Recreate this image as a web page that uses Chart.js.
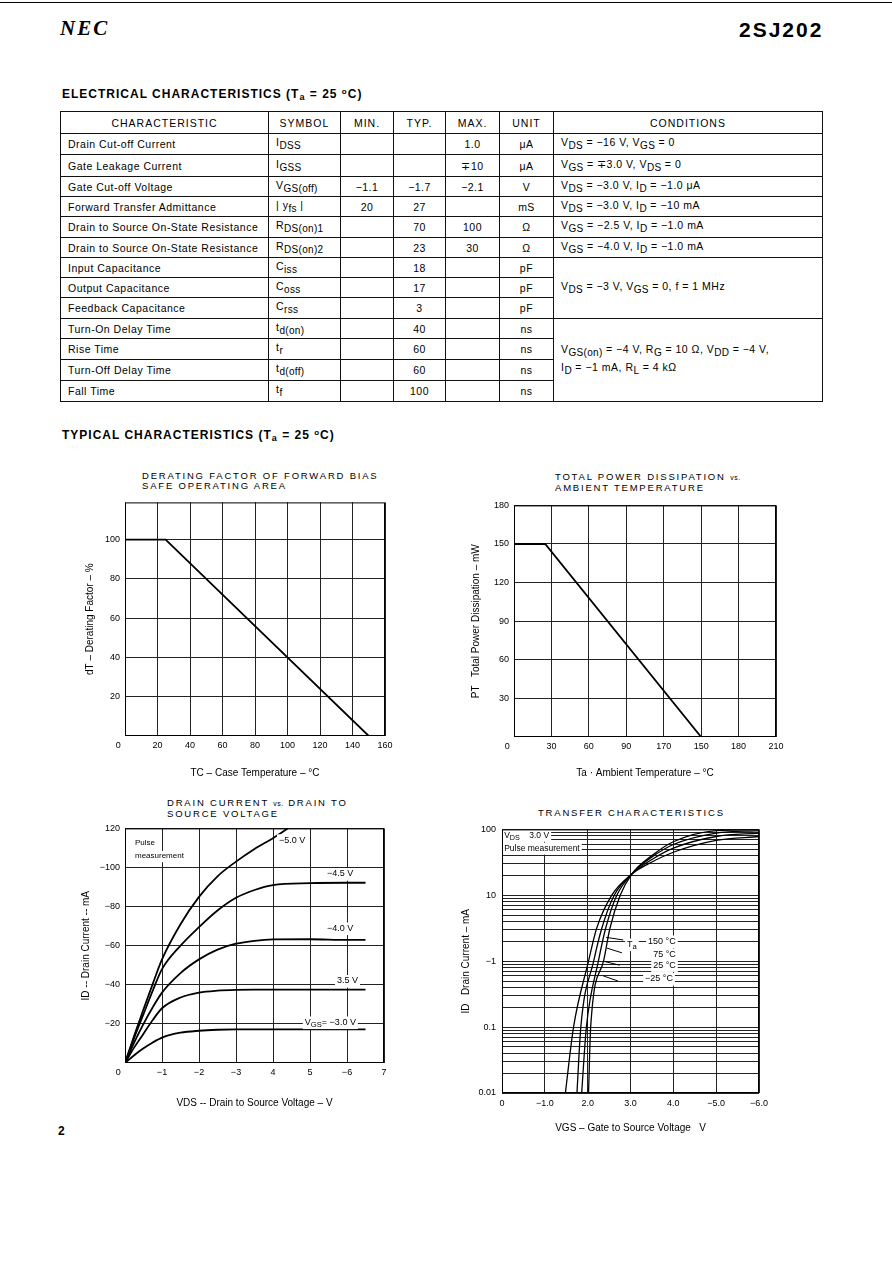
<!DOCTYPE html>
<html>
<head>
<meta charset="utf-8">
<script src="https://cdn.jsdelivr.net/npm/chart.js@4.4.1/dist/chart.umd.min.js"></script>
<style>
  body { margin: 0; background: #fff; }
  #page { position: relative; width: 892px; height: 1263px; overflow: hidden;
          font-family: "Liberation Sans", Arial, sans-serif; color: #000; }
  .abs { position: absolute; white-space: nowrap; line-height: 1; }
  .rule { position: absolute; left: 0; top: 2px; width: 892px; height: 1px; background: #000; }
  .nec { font-family: "Liberation Serif", serif; font-weight: bold; font-style: italic;
         font-size: 21px; letter-spacing: 2px; }
  .part { font-weight: bold; font-size: 21px; letter-spacing: 2px; }
  .sec { font-weight: bold; font-size: 12px; letter-spacing: 1px; }
  .sec sub { font-size: 9px; vertical-align: -2px; }
  .sec sup { font-size: 8px; vertical-align: 4px; }
  .ctitle { position: absolute; white-space: nowrap; font-size: 9.5px; line-height: 10px;
            letter-spacing: 1.8px; }
  .ctitle small { font-size: 7px; letter-spacing: 0.5px; }
  canvas { position: absolute; }

  #ec { position: absolute; left: 60px; top: 111px; border-collapse: collapse;
        table-layout: fixed; font-size: 10.5px; letter-spacing: 0.5px; }
  #ec td { border: 1px solid #111; padding: 0; text-align: center; vertical-align: middle;
           line-height: 12px; white-space: nowrap; }
  #ec td.l { text-align: left; padding-left: 7px; }
  #ec tr.hd td { letter-spacing: 1px; }
  #ec sub { font-size: 10px; vertical-align: -3px; letter-spacing: 0.3px; }
</style>
</head>
<body>
<div id="page">
  <div class="rule"></div>
  <div class="abs nec" style="left:60px; top:18px;">NEC</div>
  <div class="abs part" style="left:739px; top:19px;">2SJ202</div>

  <div class="abs sec" style="left:62px; top:88px;">ELECTRICAL CHARACTERISTICS (T<sub>a</sub> = 25 <sup>o</sup>C)</div>

  <table id="ec">
    <colgroup>
      <col style="width:208px"><col style="width:72px"><col style="width:53px"><col style="width:52px">
      <col style="width:54px"><col style="width:54px"><col style="width:269px">
    </colgroup>
    <tr class="hd" style="height:22px"><td>CHARACTERISTIC</td><td>SYMBOL</td><td>MIN.</td><td>TYP.</td><td>MAX.</td><td>UNIT</td><td>CONDITIONS</td></tr>
    <tr style="height:21px"><td class="l">Drain Cut-off Current</td><td class="l">I<sub>DSS</sub></td><td></td><td></td><td>1.0</td><td>μA</td><td class="l">V<sub>DS</sub> = −16 V, V<sub>GS</sub> = 0</td></tr>
    <tr style="height:22px"><td class="l">Gate Leakage Current</td><td class="l">I<sub>GSS</sub></td><td></td><td></td><td>∓10</td><td>μA</td><td class="l">V<sub>GS</sub> = ∓3.0 V, V<sub>DS</sub> = 0</td></tr>
    <tr style="height:20px"><td class="l">Gate Cut-off Voltage</td><td class="l">V<sub>GS(off)</sub></td><td>−1.1</td><td>−1.7</td><td>−2.1</td><td>V</td><td class="l">V<sub>DS</sub> = −3.0 V, I<sub>D</sub> = −1.0 μA</td></tr>
    <tr style="height:20px"><td class="l">Forward Transfer Admittance</td><td class="l">| y<sub>fs</sub> |</td><td>20</td><td>27</td><td></td><td>mS</td><td class="l">V<sub>DS</sub> = −3.0 V, I<sub>D</sub> = −10 mA</td></tr>
    <tr style="height:21px"><td class="l">Drain to Source On-State Resistance</td><td class="l">R<sub>DS(on)1</sub></td><td></td><td>70</td><td>100</td><td>Ω</td><td class="l">V<sub>GS</sub> = −2.5 V, I<sub>D</sub> = −1.0 mA</td></tr>
    <tr style="height:20px"><td class="l">Drain to Source On-State Resistance</td><td class="l">R<sub>DS(on)2</sub></td><td></td><td>23</td><td>30</td><td>Ω</td><td class="l">V<sub>GS</sub> = −4.0 V, I<sub>D</sub> = −1.0 mA</td></tr>
    <tr style="height:20px"><td class="l">Input Capacitance</td><td class="l">C<sub>iss</sub></td><td></td><td>18</td><td></td><td>pF</td><td class="l" rowspan="3">V<sub>DS</sub> = −3 V, V<sub>GS</sub> = 0, f = 1 MHz</td></tr>
    <tr style="height:20px"><td class="l">Output Capacitance</td><td class="l">C<sub>oss</sub></td><td></td><td>17</td><td></td><td>pF</td></tr>
    <tr style="height:21px"><td class="l">Feedback Capacitance</td><td class="l">C<sub>rss</sub></td><td></td><td>3</td><td></td><td>pF</td></tr>
    <tr style="height:20px"><td class="l">Turn-On Delay Time</td><td class="l">t<sub>d(on)</sub></td><td></td><td>40</td><td></td><td>ns</td><td class="l" rowspan="4" style="line-height:14px">V<sub>GS(on)</sub> = −4 V, R<sub>G</sub> = 10 Ω, V<sub>DD</sub> = −4 V,<br>I<sub>D</sub> = −1 mA, R<sub>L</sub> = 4 kΩ</td></tr>
    <tr style="height:21px"><td class="l">Rise Time</td><td class="l">t<sub>r</sub></td><td></td><td>60</td><td></td><td>ns</td></tr>
    <tr style="height:21px"><td class="l">Turn-Off Delay Time</td><td class="l">t<sub>d(off)</sub></td><td></td><td>60</td><td></td><td>ns</td></tr>
    <tr style="height:21px"><td class="l">Fall Time</td><td class="l">t<sub>f</sub></td><td></td><td>100</td><td></td><td>ns</td></tr>
  </table>

  <div class="abs sec" style="left:62px; top:429px;">TYPICAL CHARACTERISTICS (T<sub>a</sub> = 25 <sup>o</sup>C)</div>

  <div class="ctitle" style="left:142px; top:471px;">DERATING FACTOR OF FORWARD BIAS<br>SAFE OPERATING AREA</div>
  <div class="ctitle" style="left:555px; top:472px;">TOTAL POWER DISSIPATION <small>vs.</small><br>AMBIENT TEMPERATURE</div>
  <div class="ctitle" style="left:167px; top:798px;">DRAIN CURRENT <small>vs.</small> DRAIN TO<br>SOURCE VOLTAGE</div>
  <div class="ctitle" style="left:538px; top:808px;">TRANSFER CHARACTERISTICS</div>

  <canvas id="derChart" width="345" height="296" style="left:60px; top:492px;"></canvas>
  <canvas id="pwrChart" width="335" height="293" style="left:460px; top:495px;"></canvas>
  <canvas id="idChart" width="330" height="300" style="left:70px; top:818px;"></canvas>
  <canvas id="trChart" width="320" height="318" style="left:455px; top:818px;"></canvas>

  <div class="abs sec" style="left:58px; top:1125px;">2</div>
</div>

<script>
// ---- data ----

// derating factor vs case temperature
const derTemp = [0, 25, 150];
const derFactor = [100, 100, 0];
const derXTicks = [0, 20, 40, 60, 80, 100, 120, 140, 160];
const derXLabels = ["0", "20", "40", "60", "80", "100", "120", "140", "160"];
const derYTicks = [20, 40, 60, 80, 100];
const derYLabels = ["20", "40", "60", "80", "100"];

// total power dissipation vs ambient temperature
const pwrTemp = [0, 25, 150];
const pwrMw = [150, 150, 0];
const pwrXTicks = [0, 30, 60, 90, 120, 150, 180, 210];
const pwrXLabels = ["0", "30", "60", "90", "170", "150", "180", "210"];
const pwrYTicks = [30, 60, 90, 120, 150, 180];
const pwrYLabels = ["30", "60", "90", "120", "150", "180"];

// drain current vs drain to source voltage (magnitudes)
const vds = [0, 0.25, 0.5, 0.75, 1, 1.5, 2, 2.5, 3, 3.5, 4, 5, 6, 6.5];
const vdsHigh = [0, 0.25, 0.5, 0.75, 1, 1.5, 2, 2.5, 3, 3.5, 4, 4.4];
const idVgs30 = [0, 4, 7.5, 10.5, 13, 15.5, 16.5, 17, 17.2, 17.2, 17.2, 17.2, 17.2, 17.2];
const idVgs35 = [0, 8, 15, 22, 28, 33.5, 36, 37, 37.4, 37.5, 37.5, 37.5, 37.5, 37.5];
const idVgs40 = [0, 10.5, 20, 28.5, 36, 46, 53, 58, 61, 62.5, 63.2, 63.3, 63, 63];
const idVgs45 = [0, 13, 25, 37, 48, 60, 69.5, 78, 84.5, 88.5, 91, 92, 92.2, 92.2];
const idVgs50 = [0, 14, 27.5, 40.5, 53, 71, 85, 95.5, 103, 109.5, 115, 120];
const idXTicks = [0, 1, 2, 3, 4, 5, 6, 7];
const idXLabels = ["0", "−1", "−2", "−3", "4", "5", "−6", "7"];
const idYTicks = [20, 40, 60, 80, 100, 120];
const idYLabels = ["−20", "−40", "−60", "−80", "−100", "120"];

// transfer characteristics (|VGS| in V, |ID| in mA)
const vgs150 = [1.48, 1.67, 2.02, 2.21, 2.56, 3.03, 3.5, 4.0, 5.0, 6.0];
const id150 = [0.01, 0.1, 1, 3.16, 10, 21, 32, 45, 68, 78];
const vgs75 = [1.75, 1.84, 2.14, 2.33, 2.62, 3.03, 3.5, 4.0, 5.0, 6.0];
const id75 = [0.01, 0.1, 1, 3.16, 10, 21, 35, 52, 78, 88];
const vgs25 = [1.86, 1.97, 2.25, 2.42, 2.68, 3.03, 3.5, 4.0, 5.0, 6.0];
const id25 = [0.01, 0.1, 1, 3.16, 10, 21, 38, 59, 88, 96];
const vgsM25 = [2.02, 2.07, 2.37, 2.52, 2.76, 3.03, 3.5, 4.0, 5.0, 6.0];
const idM25 = [0.01, 0.1, 1, 3.16, 10, 21, 40, 65, 96, 100];
const trXTicks = [0, 1, 2, 3, 4, 5, 6];
const trXLabels = ["0", "−1.0", "2.0", "3.0", "4.0", "−5.0", "−6.0"];
const trDecades = [0.01, 0.1, 1, 10, 100];
const trDecadeLabels = ["0.01", "0.1", "−1", "10", "100"];
const trMinor = [1, 2, 3, 4, 5, 6, 7, 8, 9];

// ---- helpers ----
const FONT = '"Liberation Sans", Arial, sans-serif';
Chart.defaults.font.family = FONT;
Chart.defaults.color = "#000";

function pts(xs, ys) {
  return xs.map((x, i) => ({ x: x, y: ys[i] }));
}

// parts: [[text, isSub], ...]
function richWidth(ctx, parts, size) {
  let w = 0;
  parts.forEach(([t, sub]) => {
    ctx.font = (sub ? size * 0.85 : size) + "px " + FONT;
    w += ctx.measureText(t).width;
  });
  return w;
}

function drawRich(ctx, parts, x, y, size) {
  let cx = x;
  parts.forEach(([t, sub]) => {
    ctx.font = (sub ? size * 0.85 : size) + "px " + FONT;
    ctx.fillText(t, cx, sub ? y + size * 0.3 : y);
    cx += ctx.measureText(t).width;
  });
}

// box round the plot area
const framePlugin = {
  id: "frame",
  afterDraw(chart) {
    const { ctx, chartArea: a } = chart;
    ctx.save();
    ctx.strokeStyle = "#000";
    ctx.lineWidth = 1;
    ctx.strokeRect(a.left + 0.5, a.top + 0.5, a.right - a.left - 1, a.bottom - a.top - 1);
    ctx.restore();
  },
};

// text labels and leader lines placed in data units
const notesPlugin = {
  id: "notes",
  afterDatasetsDraw(chart, args, opts) {
    const { ctx } = chart;
    const sx = chart.scales.x, sy = chart.scales.y;
    ctx.save();
    ctx.textBaseline = "middle";
    ctx.textAlign = "left";
    ctx.strokeStyle = "#000";
    ctx.lineWidth = 1;
    (opts.lines || []).forEach((l) => {
      ctx.beginPath();
      ctx.moveTo(sx.getPixelForValue(l[0]), sy.getPixelForValue(l[1]));
      ctx.lineTo(sx.getPixelForValue(l[2]), sy.getPixelForValue(l[3]));
      ctx.stroke();
    });
    (opts.items || []).forEach((it) => {
      const px = sx.getPixelForValue(it.x), py = sy.getPixelForValue(it.y);
      const size = it.size || 9;
      if (it.bg) {
        const w = richWidth(ctx, it.parts, size);
        ctx.fillStyle = "#fff";
        ctx.fillRect(px - 2, py - size * 0.65, w + 4, size * 1.4);
      }
      ctx.fillStyle = "#000";
      drawRich(ctx, it.parts, px, py, size);
    });
    ctx.restore();
  },
};

Chart.register(framePlugin, notesPlugin);

function axis(opts) {
  return {
    type: opts.type || "linear",
    min: opts.min,
    max: opts.max,
    afterBuildTicks: (s) => { s.ticks = opts.ticks.map((v) => ({ value: v })); },
    afterFit: (s) => {
      if (opts.width) s.width = opts.width;
      if (opts.height) s.height = opts.height;
    },
    ticks: {
      autoSkip: false,
      maxRotation: 0,
      padding: opts.tickPad,
      font: { size: 9 },
      callback: opts.label,
    },
    grid: { color: "#222", lineWidth: 1, drawTicks: false },
    border: { display: false },
    title: {
      display: true,
      text: opts.title,
      font: { size: 10 },
      padding: opts.titlePad,
    },
  };
}

function lineSet(data, width, smooth) {
  return {
    data: data,
    borderColor: "#000",
    borderWidth: width,
    pointRadius: 0,
    fill: false,
    tension: 0,
    cubicInterpolationMode: smooth ? "monotone" : "default",
  };
}

function baseOptions(pad, scales, notes) {
  return {
    responsive: false,
    animation: false,
    layout: { padding: pad },
    plugins: { legend: { display: false }, tooltip: { enabled: false }, notes: notes || {} },
    scales: scales,
  };
}

// first x label sits at the corner, a little to the left
const cornerZero = "0\u2003\u2002";

// chart: derating factor
new Chart(document.getElementById("derChart"), {
  type: "line",
  data: { datasets: [lineSet(pts(derTemp, derFactor), 1.8, false)] },
  options: baseOptions({ top: 6, right: 20, left: 0, bottom: 0 }, {
    x: axis({ min: 0, max: 160, ticks: derXTicks, height: 52, tickPad: 4,
      label: (v, i) => (i === 0 ? cornerZero : derXLabels[i]),
      title: "TC – Case Temperature – °C", titlePad: { top: 0, bottom: 9 } }),
    y: axis({ min: 0, max: 119, ticks: derYTicks, width: 65, tickPad: 5,
      label: (v, i) => derYLabels[i],
      title: "dT – Derating Factor – %", titlePad: { top: 24, bottom: 0 } }),
  }),
});

// chart: total power dissipation
new Chart(document.getElementById("pwrChart"), {
  type: "line",
  data: { datasets: [lineSet(pts(pwrTemp, pwrMw), 1.8, false)] },
  options: baseOptions({ top: 6, right: 19, left: 0, bottom: 0 }, {
    x: axis({ min: 0, max: 210, ticks: pwrXTicks, height: 51, tickPad: 4,
      label: (v, i) => (i === 0 ? cornerZero : pwrXLabels[i]),
      title: "Ta · Ambient Temperature – °C", titlePad: { top: 0, bottom: 9 } }),
    y: axis({ min: 0, max: 180, ticks: pwrYTicks, width: 54, tickPad: 5,
      label: (v, i) => pwrYLabels[i],
      title: "PT   Total Power Dissipation – mW", titlePad: { top: 10, bottom: 0 } }),
  }),
});

// chart: drain current vs drain to source voltage
new Chart(document.getElementById("idChart"), {
  type: "line",
  data: {
    datasets: [
      lineSet(pts(vds, idVgs30), 1.8, true),
      lineSet(pts(vds, idVgs35), 1.8, true),
      lineSet(pts(vds, idVgs40), 1.8, true),
      lineSet(pts(vds, idVgs45), 1.8, true),
      lineSet(pts(vdsHigh, idVgs50), 1.8, true),
    ],
  },
  options: baseOptions({ top: 8, right: 16, left: 0, bottom: 0 }, {
    x: axis({ min: 0, max: 7, ticks: idXTicks, height: 55, tickPad: 4,
      label: (v, i) => (i === 0 ? cornerZero : idXLabels[i]),
      title: "VDS -- Drain to Source Voltage – V", titlePad: { top: 0, bottom: 9 } }),
    y: axis({ min: 0, max: 120, ticks: idYTicks, width: 55, tickPad: 5,
      label: (v, i) => idYLabels[i],
      title: "ID -- Drain Current -- mA", titlePad: { top: 10, bottom: 0 } }),
  }, {
    items: [
      { x: 0.27, y: 112.5, size: 8, bg: true, parts: [["Pulse", 0]] },
      { x: 0.27, y: 105.8, size: 8, bg: true, parts: [["measurement", 0]] },
      { x: 4.16, y: 114, bg: true, parts: [["−5.0 V", 0]] },
      { x: 5.46, y: 96.7, bg: true, parts: [["−4.5 V", 0]] },
      { x: 5.46, y: 68.9, bg: true, parts: [["−4.0 V", 0]] },
      { x: 5.73, y: 42, bg: true, parts: [["3.5 V", 0]] },
      { x: 4.86, y: 20.8, bg: true, parts: [["V", 0], ["GS", 1], ["= −3.0 V", 0]] },
    ],
  }),
});

// chart: transfer characteristics
const trTicks = [];
trDecades.slice(0, -1).forEach((d) => trMinor.forEach((m) => trTicks.push(d * m)));
trTicks.push(trDecades[trDecades.length - 1]);

new Chart(document.getElementById("trChart"), {
  type: "line",
  data: {
    datasets: [
      lineSet(pts(vgs150, id150), 1.3, true),
      lineSet(pts(vgs75, id75), 1.3, true),
      lineSet(pts(vgs25, id25), 1.3, true),
      lineSet(pts(vgsM25, idM25), 1.3, true),
    ],
  },
  options: baseOptions({ top: 9, right: 16, left: 0, bottom: 0 }, {
    x: axis({ min: 0, max: 6, ticks: trXTicks, height: 43, tickPad: 5,
      label: (v, i) => trXLabels[i],
      title: "VGS – Gate to Source Voltage   V", titlePad: { top: 0, bottom: 2 } }),
    y: axis({ type: "logarithmic", min: 0.01, max: 100, ticks: trTicks, width: 47, tickPad: 6,
      label: (v) => {
        const k = trDecades.findIndex((d) => Math.abs(d - v) < d * 1e-6);
        return k >= 0 ? trDecadeLabels[k] : "";
      },
      title: "ID   Drain Current – mA", titlePad: { top: 5, bottom: 0 } }),
  }, {
    lines: [
      [2.83, 2.1, 2.43, 2.3],
      [2.80, 1.34, 2.45, 1.58],
      [2.75, 0.87, 2.36, 1.0],
      [2.71, 0.5, 2.36, 0.6],
    ],
    items: [
      { x: 0.05, y: 81, bg: true, size: 8.5, parts: [["V", 0], ["DS", 1], ["    3.0 V", 0]] },
      { x: 0.05, y: 51.8, bg: true, size: 8.5, parts: [["Pulse measurement", 0]] },
      { x: 2.92, y: 1.8, bg: true, parts: [["T", 0], ["a", 1]] },
      { x: 3.41, y: 2.0, bg: true, parts: [["150 °C", 0]] },
      { x: 3.53, y: 1.27, bg: true, parts: [["75 °C", 0]] },
      { x: 3.53, y: 0.87, bg: true, parts: [["25 °C", 0]] },
      { x: 3.34, y: 0.54, bg: true, parts: [["−25 °C", 0]] },
    ],
  }),
});
</script>
</body>
</html>
